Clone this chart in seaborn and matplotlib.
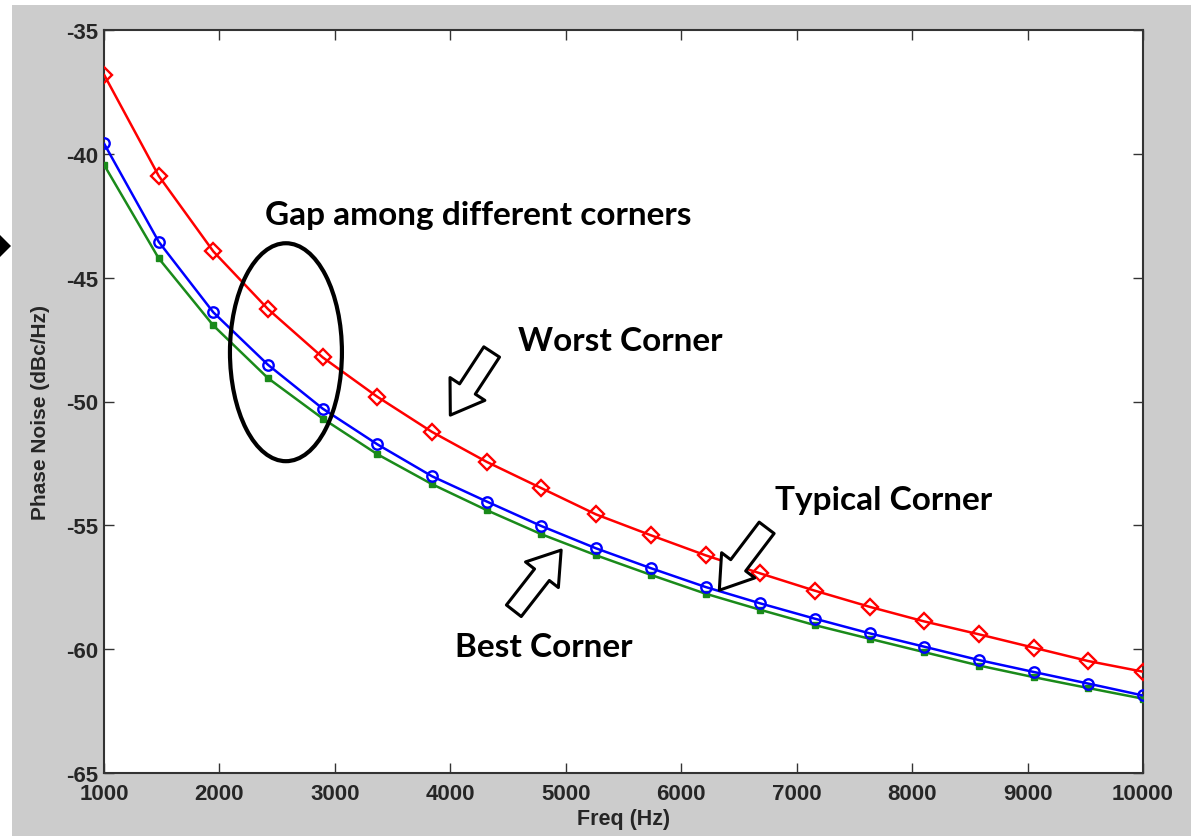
import numpy as np
import pandas as pd
import matplotlib
matplotlib.use("Agg")
import matplotlib.pyplot as plt
from matplotlib.patches import Ellipse, Polygon, Rectangle
import seaborn as sns

# ---- data ----
freq = [1000, 1474, 1947, 2421, 2895, 3368, 3842, 4316, 4789, 5263,
        5737, 6211, 6684, 7158, 7632, 8105, 8579, 9053, 9526, 10000]
worst = [-36.80, -40.89, -43.94, -46.27, -48.22, -49.81, -51.23, -52.44, -53.50, -54.56,
         -55.40, -56.21, -56.94, -57.64, -58.29, -58.88, -59.40, -59.94, -60.48, -60.91]
typical = [-39.58, -43.55, -46.40, -48.52, -50.29, -51.73, -53.02, -54.04, -55.03, -55.93,
           -56.73, -57.49, -58.15, -58.77, -59.36, -59.90, -60.44, -60.92, -61.39, -61.87]
best = [-40.44, -44.22, -46.93, -49.06, -50.69, -52.13, -53.34, -54.39, -55.36, -56.21,
        -57.00, -57.76, -58.41, -59.03, -59.58, -60.12, -60.66, -61.13, -61.57, -62.00]
xticks = [1000, 2000, 3000, 4000, 5000, 6000, 7000, 8000, 9000, 10000]
yticks = [-65, -60, -55, -50, -45, -40, -35]

sns.set_style("white")
plt.rcParams['font.family'] = ['Liberation Sans', 'DejaVu Sans']

fig = plt.figure(figsize=(11.91, 8.37), dpi=100, facecolor='white')
# gray figure panel (MATLAB style) with thin white margin top/left
fig.patches.append(Rectangle((12 / 1191, 0.0), 1 - 12 / 1191, 1 - 6 / 837,
                             transform=fig.transFigure, facecolor='#cccccc',
                             edgecolor='none', zorder=-10))
# small black arrowhead artifact on left edge
fig.patches.append(Polygon([[0 / 1191, 1 - 236 / 837], [11 / 1191, 1 - 247 / 837],
                            [0 / 1191, 1 - 258 / 837]], closed=True,
                           transform=fig.transFigure, facecolor='black',
                           edgecolor='none', zorder=5))

ax = fig.add_axes([104 / 1191, 1 - 774 / 837, (1143 - 104) / 1191, (774 - 31) / 837])
ax.set_facecolor('white')

df = pd.DataFrame({'freq': freq, 'worst': worst, 'typical': typical, 'best': best})

sns.lineplot(data=df, x='freq', y='worst', ax=ax, color='#ff0000', lw=1.8,
             marker='D', markersize=8.5, markerfacecolor='none',
             markeredgecolor='#ff0000', markeredgewidth=1.7, zorder=3)
sns.lineplot(data=df, x='freq', y='typical', ax=ax, color='#0000ff', lw=1.8,
             marker='o', markersize=7.5, markerfacecolor='none',
             markeredgecolor='#0000ff', markeredgewidth=1.7, zorder=4)
sns.lineplot(data=df, x='freq', y='best', ax=ax, color='#1a8a1a', lw=1.8,
             marker='s', markersize=5, markerfacecolor='#1a8a1a',
             markeredgecolor='#1a8a1a', markeredgewidth=1, zorder=3)

ax.set_xlim(1000, 10000)
ax.set_ylim(-65, -35)
ax.set_xticks(xticks)
ax.set_yticks(yticks)
ax.set_xticklabels([str(t) for t in xticks], fontsize=16, fontweight='bold')
ax.set_yticklabels([str(t) for t in yticks], fontsize=16, fontweight='bold')
ax.tick_params(axis='y', pad=4)
ax.tick_params(axis='x', pad=7)
ax.tick_params(direction='in', length=7, width=1.0, color='#333333',
               top=True, right=True, bottom=True, left=True)
for s in ax.spines.values():
    s.set_visible(True)
    s.set_color('#333333')
    s.set_linewidth(1.5)

ax.set_xlabel('Freq (Hz)', fontsize=15.5, fontweight='bold', labelpad=3)
ax.set_ylabel('Phase Noise (dBc/Hz)', fontsize=15, fontweight='bold')
ax.yaxis.set_label_coords(-0.052, 0.487)

# ---- annotations ----
afont = dict(family=['Lato', 'DejaVu Sans'], fontweight='bold', fontsize=24, color='black')
ax.text(2395, -42.43, 'Gap among different corners', ha='left', va='center', **afont)
ax.text(4586, -47.53, 'Worst Corner', ha='left', va='center', **afont)
ax.text(6812, -53.95, 'Typical Corner', ha='left', va='center', **afont)
ax.text(4040, -59.89, 'Best Corner', ha='left', va='center', **afont)

ax.add_patch(Ellipse((2576, -48.01), width=970, height=8.8, fill=False,
                     edgecolor='black', lw=3, zorder=6))

arrow_style = 'simple,head_length=0.75,head_width=1.0,tail_width=0.45'
for tail, tip in [((4358, -48.0), (4000, -50.55)),
                  ((6740, -55.1), (6330, -57.62)),
                  ((4550, -58.45), (4960, -56.0))]:
    ax.annotate('', xy=tip, xytext=tail,
                arrowprops=dict(arrowstyle=arrow_style, fc='white', ec='black',
                                lw=2.2, shrinkA=0, shrinkB=0, mutation_scale=30),
                zorder=7)

fig.savefig('out.png', dpi=100, facecolor=fig.get_facecolor())
